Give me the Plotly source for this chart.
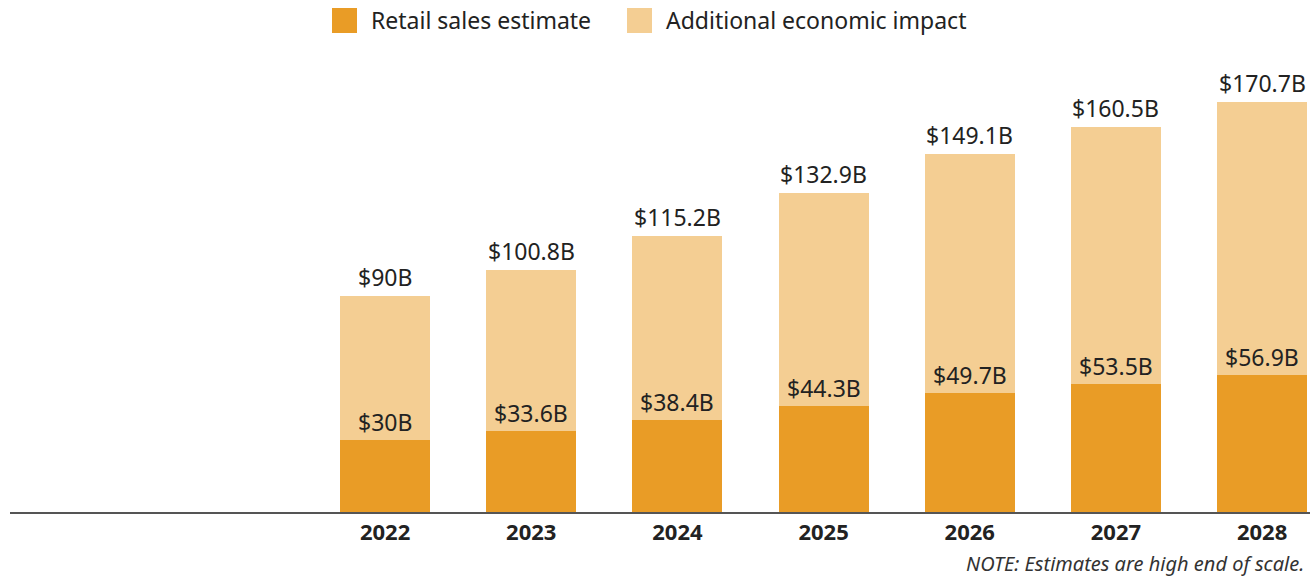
import plotly.graph_objects as go

years = [2022, 2023, 2024, 2025, 2026, 2027, 2028]
retail = [30, 33.6, 38.4, 44.3, 49.7, 53.5, 56.9]
total = [90, 100.8, 115.2, 132.9, 149.1, 160.5, 170.7]
retail_labels = ["$30B", "$33.6B", "$38.4B", "$44.3B", "$49.7B", "$53.5B", "$56.9B"]
total_labels = ["$90B", "$100.8B", "$115.2B", "$132.9B", "$149.1B", "$160.5B", "$170.7B"]
series_names = ["Retail sales estimate", "Additional economic impact"]
note = "NOTE: Estimates are high end of scale."

additional = [t - r for t, r in zip(total, retail)]

DARK = "#E99C26"
LIGHT = "#F4CE93"
FONT = "Noto Sans"
TXT = "#222222"
LBL = 23

fig = go.Figure()
fig.add_trace(go.Bar(x=years, y=retail, name=series_names[0], marker_color=DARK,
                     width=0.615, marker_line_width=0, hoverinfo="skip"))
fig.add_trace(go.Bar(x=years, y=additional, name=series_names[1], marker_color=LIGHT,
                     width=0.615, marker_line_width=0, hoverinfo="skip"))

W, H = 1310, 577
ml, mr, mt, mb = 10, 0, 44, 65
pw, ph = W - ml - mr, H - mt - mb
def px2paper_x(px):
    return (px - ml) / pw
def py2paper_y(py):
    return (H - mb - py) / ph

annotations = []
for x, r, t, rl, tl in zip(years, retail, total, retail_labels, total_labels):
    annotations.append(dict(x=x, y=t, text=tl, showarrow=False, yanchor="bottom",
                            yshift=1, font=dict(family=FONT, size=LBL, color=TXT)))
    annotations.append(dict(x=x, y=r, text=rl, showarrow=False, yanchor="bottom",
                            yshift=0, font=dict(family=FONT, size=LBL, color=TXT)))

annotations.append(dict(xref="paper", yref="paper", x=px2paper_x(1306), y=py2paper_y(563),
                        xanchor="right", yanchor="middle",
                        text="<i>" + note + "</i>", showarrow=False,
                        font=dict(family=FONT, size=20, color="#333333")))

# custom legend (swatches + text)
shapes = []
leg = [(332, DARK, series_names[0]), (627, LIGHT, series_names[1])]
for x0, col, name in leg:
    shapes.append(dict(type="rect", xref="paper", yref="paper",
                       x0=px2paper_x(x0), x1=px2paper_x(x0 + 25),
                       y0=py2paper_y(33), y1=py2paper_y(8),
                       fillcolor=col, line_width=0))
    annotations.append(dict(xref="paper", yref="paper", x=px2paper_x(x0 + 37),
                            y=py2paper_y(20.5), xanchor="left", yanchor="middle",
                            text=name, showarrow=False,
                            font=dict(family=FONT, size=LBL, color=TXT)))

fig.update_layout(
    barmode="stack",
    width=W, height=H,
    margin=dict(l=ml, r=mr, t=mt, b=mb),
    plot_bgcolor="white", paper_bgcolor="white",
    showlegend=False,
    annotations=annotations,
    shapes=shapes,
    xaxis=dict(range=[2019.434, 2028.328], tickvals=years,
               ticktext=["<b>%d</b>" % y for y in years],
               tickfont=dict(family=FONT, size=22, color=TXT),
               showline=True, linecolor="#555555", linewidth=2,
               showgrid=False, zeroline=False, ticks="", ticklen=0),
    yaxis=dict(range=[0, 195], visible=False, showgrid=False, zeroline=False),
    bargap=0,
)

fig.write_html("out.html", config={"displayModeBar": False},
               post_script="document.body.style.margin='0';document.body.style.overflow='hidden';")
